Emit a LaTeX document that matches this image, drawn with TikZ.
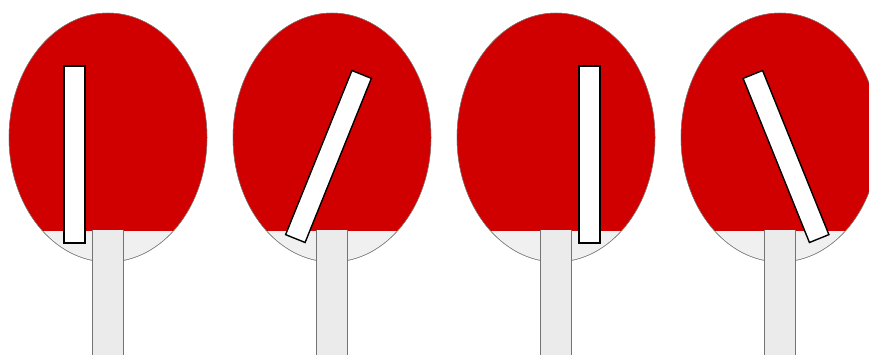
\documentclass[tikz,border=0pt]{standalone}
\usepackage{xcolor}
\usepackage{tikz}

\definecolor{bladered}{RGB}{208,0,0}
\definecolor{woodgray}{RGB}{240,240,240}
\definecolor{handlegray}{RGB}{235,235,235}

\begin{document}
\begin{tikzpicture}[x=1pt, y=-1pt]
                \tikzstyle{blade} = [fill=woodgray, draw=gray, line width=0.5pt]
                \tikzstyle{rubber} = [fill=bladered]
                \tikzstyle{grip} = [fill=handlegray]
                \tikzstyle{gripedge} = [draw=gray!90!black, line width=0.8pt]
                \tikzstyle{strip} = [fill=white, draw=black, line width=1.4pt]
                
                \useasboundingbox (0,0) rectangle (869,354);
                \clip (0,0) rectangle (869,354);
                
                % paddle centre / strip offset / strip centre y / strip angle
                \foreach \cx/\sx/\sy/\ang in {108/-33.5/154.5/0, 332/-3.5/156.5/-22, 556/33.5/154.5/0, 780/6/156.5/22} {
                    \draw [blade] (\cx,137.5) ellipse [x radius=99, y radius=124.5];
                    \begin{scope}
                        \clip (\cx-110,0) rectangle (\cx+110,230);
                        \fill [rubber] (\cx,137.5) ellipse [x radius=99, y radius=124.5];
                    \end{scope}
                    \draw [gray, line width=0.4pt] (\cx,137.5) ellipse [x radius=99, y radius=124.5];
                    \fill [grip] (\cx-15.5,230) rectangle (\cx+15.5,360);
                    \draw [gripedge] (\cx-15.5,230) -- (\cx-15.5,360) (\cx+15.5,230) -- (\cx+15.5,360);
                    \draw [strip, rotate around={\ang:(\cx+\sx,\sy)}] (\cx+\sx-10.5,\sy-88.5) rectangle (\cx+\sx+10.5,\sy+88.5);
                }
            \end{tikzpicture}
\end{document}
